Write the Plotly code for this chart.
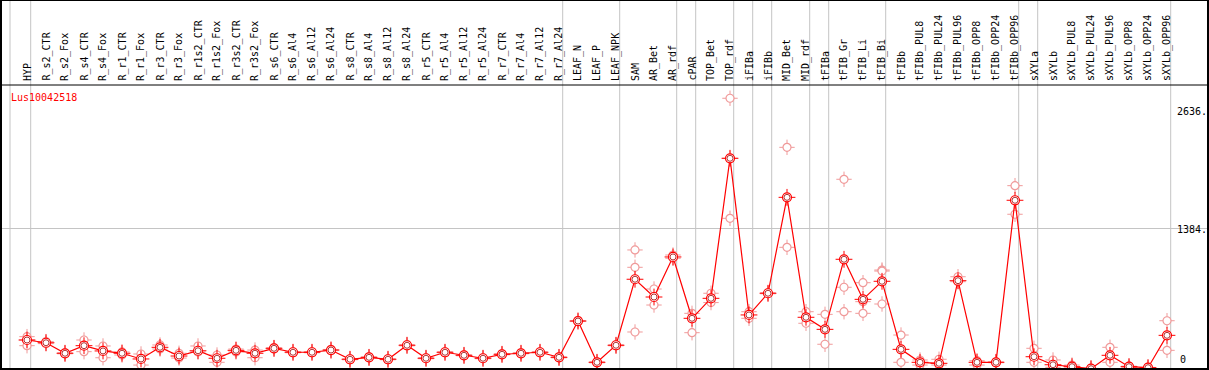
import plotly.graph_objects as go

categories = ["HYP", "R_s2_CTR", "R_s2_Fox", "R_s4_CTR", "R_s4_Fox", "R_r1_CTR", "R_r1_Fox",
              "R_r3_CTR", "R_r3_Fox", "R_r1s2_CTR", "R_r1s2_Fox", "R_r3s2_CTR", "R_r3s2_Fox",
              "R_s6_CTR", "R_s6_Al4", "R_s6_Al12", "R_s6_Al24", "R_s8_CTR", "R_s8_Al4", "R_s8_Al12",
              "R_s8_Al24", "R_r5_CTR", "R_r5_Al4", "R_r5_Al12", "R_r5_Al24", "R_r7_CTR", "R_r7_Al4",
              "R_r7_Al12", "R_r7_Al24", "LEAF_N", "LEAF_P", "LEAF_NPK", "SAM", "AR_Bet", "AR_rdf",
              "cPAR", "TOP_Bet", "TOP_rdf", "iFIBa", "iFIBb", "MID_Bet", "MID_rdf", "tFIBa",
              "tFIB_Gr", "tFIB_Li", "tFIB_Bi", "tFIBb", "tFIBb_PUL8", "tFIBb_PUL24", "tFIBb_PUL96",
              "tFIBb_OPP8", "tFIBb_OPP24", "tFIBb_OPP96", "sXYLa", "sXYLb", "sXYLb_PUL8",
              "sXYLb_PUL24", "sXYLb_PUL96", "sXYLb_OPP8", "sXYLb_OPP24", "sXYLb_OPP96"]

mean_values = [286, 259, 155, 230, 178, 155, 99, 214, 128, 180, 106, 184, 155, 204, 165, 165, 187,
               96, 115, 96, 234, 106, 165, 135, 106, 145, 155, 165, 115, 473, 66, 234, 885, 710,
               1105, 500, 697, 2078, 533, 747, 1693, 510, 391, 1082, 687, 865, 194, 66, 56, 871,
               66, 66, 1664, 121, 42, 23, 3, 135, 23, 13, 332]

rep_a = [319, 270, 160, 286, 227, 168, 148, 237, 155, 227, 138, 197, 187, 210, 170, 170, 193,
         101, 120, 101, 240, 111, 170, 140, 111, 150, 160, 170, 120, 478, 71, 239, 1174, 789,
         1124, 549, 747, 2670, 565, 752, 2186, 565, 539, 1871, 851, 976, 335, 89, 96, 910,
         82, 70, 1808, 204, 89, 39, 6, 214, 28, 16, 476]

rep_b = [230, 250, 150, 171, 111, 138, 39, 197, 108, 168, 66, 168, 111, 198, 160, 160, 181,
         91, 110, 91, 228, 101, 160, 130, 101, 140, 150, 160, 110, 468, 61, 229, 365, 631,
         1092, 358, 655, 1486, 500, 742, 1200, 451, 244, 565, 549, 641, 66, 39, 39, 861,
         39, 62, 1526, 66, 17, 10, 0, 66, 18, 10, 184]

rep_c = [286, None, None, None, None, None, None, None, None, None, None, None, None, None, None,
         None, None, None, None, None, None, None, None, None, None, None, None, None, None,
         None, None, None, 1003, None, None, None, None, 2078, None, None, None, None, None,
         806, 664, 966, None, None, None, None, None, None, None, None, None, None, None,
         None, None, None, None]

group_ends = [0, 28, 31, 34, 35, 37, 38, 39, 41, 42, 45, 52, 53, 60]
y_ticks = [0, 1384, 2636]
gene_name = "Lus10042518"

W, H = 1209, 370
PX = 19.0
X_FIRST_PX = 27.0
L, R, T, B = 1, 1, 85, 1
plot_w = W - L - R
plot_h = H - T - B
x0 = -(X_FIRST_PX - L) / PX
x1 = x0 + plot_w / PX
y_per_px = 1 / 0.1014
y_max = plot_h * y_per_px

xs = list(range(len(categories)))
FONT = "DejaVu Sans Mono"
PALE = "#f09a9a"
RED = "#ff0000"

fig = go.Figure()

# replicate points
for reps in (rep_a, rep_b, rep_c):
    px = [i for i, v in zip(xs, reps) if v is not None]
    py = [v for v in reps if v is not None]
    fig.add_trace(go.Scatter(x=px, y=py, mode="markers", hoverinfo="skip",
                             marker=dict(symbol="cross-thin-open", size=11, color=PALE,
                                         line=dict(color=PALE, width=1))))
    fig.add_trace(go.Scatter(x=px, y=py, mode="markers", hoverinfo="skip",
                             marker=dict(symbol="circle", size=8, color="white",
                                         line=dict(color=PALE, width=1.2))))

# mean line
fig.add_trace(go.Scatter(x=xs, y=mean_values, mode="lines",
                         line=dict(color=RED, width=1.2), hoverinfo="skip"))
fig.add_trace(go.Scatter(x=xs, y=mean_values, mode="markers", hoverinfo="skip",
                         marker=dict(symbol="cross-thin-open", size=12, color=RED,
                                     line=dict(color=RED, width=1))))
fig.add_trace(go.Scatter(x=xs, y=mean_values, mode="markers",
                         text=categories,
                         marker=dict(symbol="circle", size=9, color="white",
                                     line=dict(color=RED, width=1.2))))
fig.add_trace(go.Scatter(x=xs, y=mean_values, mode="markers", hoverinfo="skip",
                         marker=dict(symbol="circle-open", size=6, color="#a00000",
                                     line=dict(color="#a00000", width=0.8))))

shapes = []
top_paper = (H - B) / plot_h
for g in [x0 + 9 / PX] + [e + 3.7 / PX for e in group_ends]:
    shapes.append(dict(type="line", xref="x", yref="paper", x0=g, x1=g, y0=0, y1=top_paper,
                       line=dict(color="#c4c4c4", width=1), layer="below"))
# frame
shapes.append(dict(type="line", xref="paper", yref="paper", x0=-L / plot_w, x1=1 + R / plot_w,
                   y0=1, y1=1, line=dict(color="black", width=1)))
shapes.append(dict(type="line", xref="paper", yref="paper", x0=-L / plot_w, x1=1 + R / plot_w,
                   y0=top_paper, y1=top_paper, line=dict(color="black", width=2)))
shapes.append(dict(type="line", xref="paper", yref="paper", x0=-L / plot_w, x1=1 + R / plot_w,
                   y0=0, y1=0, line=dict(color="black", width=2)))
shapes.append(dict(type="line", xref="paper", yref="paper", x0=0, x1=0,
                   y0=0, y1=top_paper, line=dict(color="black", width=2)))
shapes.append(dict(type="line", xref="paper", yref="paper", x0=1, x1=1,
                   y0=0, y1=top_paper, line=dict(color="black", width=2)))

annotations = []
for i, c in enumerate(categories):
    annotations.append(dict(x=i, y=1 + 2 / plot_h, xref="x", yref="paper", text=c,
                            textangle=-90, showarrow=False, xanchor="center", yanchor="bottom",
                            font=dict(family=FONT, size=10, color="black")))
annotations.append(dict(x=8 / plot_w, y=(H - B - 97.5) / plot_h, xref="paper", yref="paper",
                        text=gene_name, showarrow=False, xanchor="left", yanchor="middle",
                        font=dict(family=FONT, size=10, color=RED)))
lab_x = (1175 - L) / plot_w
annotations.append(dict(x=lab_x, y=y_ticks[2], xref="paper", yref="y", text=f"{y_ticks[2]}.",
                        showarrow=False, xanchor="left", yanchor="top", yshift=-2,
                        font=dict(family=FONT, size=10, color="black")))
annotations.append(dict(x=lab_x, y=y_ticks[1], xref="paper", yref="y", text=f"{y_ticks[1]}.",
                        showarrow=False, xanchor="left", yanchor="middle", yshift=-1,
                        font=dict(family=FONT, size=10, color="black")))
annotations.append(dict(x=(1178 - L) / plot_w, y=y_ticks[0], xref="paper", yref="y",
                        text=f"{y_ticks[0]}", showarrow=False, xanchor="left", yanchor="bottom",
                        yshift=2, font=dict(family=FONT, size=10, color="black")))

fig.update_layout(
    width=W, height=H, margin=dict(l=L, r=R, t=T, b=B, pad=0),
    paper_bgcolor="white", plot_bgcolor="white", showlegend=False,
    xaxis=dict(range=[x0, x1], showgrid=False, zeroline=False, showticklabels=False,
               ticks="", fixedrange=True),
    yaxis=dict(range=[0, y_max], tickvals=[y_ticks[1]], showgrid=True, gridcolor="#c4c4c4",
               gridwidth=1, zeroline=False, showticklabels=False, ticks="", fixedrange=True),
    shapes=shapes, annotations=annotations,
)

fig.write_html("out.html", config={"displayModeBar": False},
               post_script="document.body.style.margin='0';document.body.style.overflow='hidden';")
